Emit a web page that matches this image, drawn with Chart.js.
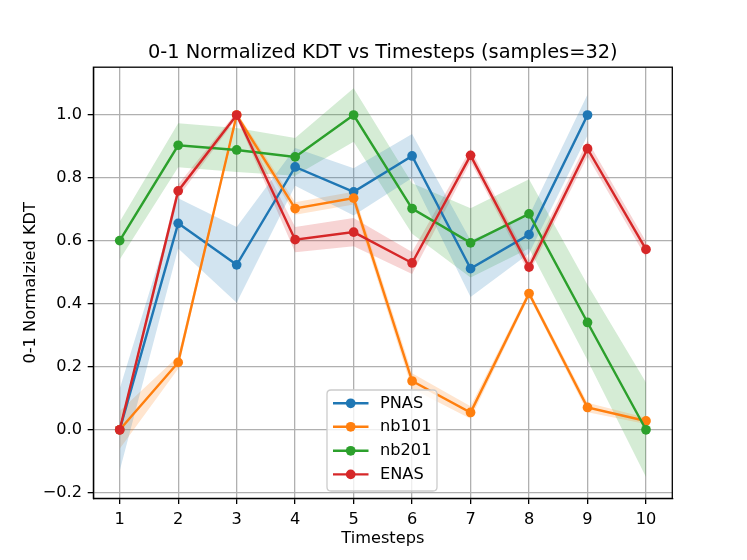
<!DOCTYPE html>
<html>
<head>
<meta charset="utf-8">
<script src="https://cdn.jsdelivr.net/npm/chart.js@4/dist/chart.umd.min.js"></script>
<style>
html,body{margin:0;padding:0;background:#fff;}
#wrap{width:747px;height:560px;}
</style>
</head>
<body>
<div id="wrap"><canvas id="c" width="747" height="560"></canvas></div>
<script>
// ---- data ----
const steps = [1, 2, 3, 4, 5, 6, 7, 8, 9, 10];
const yTicks = [-0.2, 0.0, 0.2, 0.4, 0.6, 0.8, 1.0];
const seriesNames = ['PNAS', 'nb101', 'nb201', 'ENAS'];

const pnasMean = [0.0, 0.656, 0.524, 0.835, 0.756, 0.870, 0.512, 0.620, 1.0];
const pnasStd  = [0.13, 0.08, 0.12, 0.06, 0.075, 0.07, 0.09, 0.06, 0.065];

const nb101Mean = [0.0, 0.214, 1.0, 0.703, 0.736, 0.155, 0.055, 0.433, 0.071, 0.028];
const nb101Std  = [0.06, 0.02, 0.01, 0.02, 0.02, 0.025, 0.02, 0.01, 0.015, 0.01];

const nb201Mean = [0.601, 0.904, 0.889, 0.867, 1.0, 0.703, 0.594, 0.686, 0.341, 0.0];
const nb201Std  = [0.06, 0.07, 0.07, 0.06, 0.085, 0.08, 0.11, 0.11, 0.12, 0.15];

const enasMean = [0.0, 0.759, 1.0, 0.604, 0.628, 0.530, 0.872, 0.517, 0.893, 0.573];
const enasStd  = [0.01, 0.02, 0.01, 0.04, 0.045, 0.035, 0.02, 0.02, 0.025, 0.025];

const colors = ['#1f77b4', '#ff7f0e', '#2ca02c', '#d62728'];
const bandColors = ['rgba(31,119,180,0.2)', 'rgba(255,127,14,0.2)', 'rgba(44,160,44,0.2)', 'rgba(214,39,40,0.2)'];

const means = [pnasMean, nb101Mean, nb201Mean, enasMean];
const stds = [pnasStd, nb101Std, nb201Std, enasStd];

const FONT = "'DejaVu Sans', sans-serif";
const LW = 2.43, PR = 4.86;

const datasets = [];
means.forEach((m, i) => {
  datasets.push({
    label: '_lo' + i, data: m.map((v, k) => ({x: steps[k], y: v - stds[i][k]})),
    borderWidth: 0, pointRadius: 0, fill: false, order: 100 + i, borderColor: 'rgba(0,0,0,0)'
  });
  datasets.push({
    label: '_hi' + i, data: m.map((v, k) => ({x: steps[k], y: v + stds[i][k]})),
    borderWidth: 0, pointRadius: 0, fill: '-1', backgroundColor: bandColors[i], order: 100 + i, borderColor: 'rgba(0,0,0,0)'
  });
});
means.forEach((m, i) => {
  datasets.push({
    label: seriesNames[i], data: m.map((v, k) => ({x: steps[k], y: v})),
    borderColor: colors[i], backgroundColor: colors[i], borderWidth: LW,
    pointRadius: PR, pointBorderWidth: 0, pointBackgroundColor: colors[i],
    fill: false, order: 10 - i, tension: 0
  });
});

const decor = {
  id: 'decor',
  afterDraw(chart) {
    const ctx = chart.ctx, a = chart.chartArea;
    ctx.save();
    // frame
    ctx.strokeStyle = '#000'; ctx.lineWidth = 1.3;
    ctx.strokeRect(a.left, a.top, a.right - a.left, a.bottom - a.top);
    // title
    ctx.fillStyle = '#000';
    ctx.font = '19.4px ' + FONT;
    ctx.textAlign = 'center'; ctx.textBaseline = 'alphabetic';
    const cx = (a.left + a.right) / 2;
    ctx.fillText('0-1 Normalized KDT vs Timesteps (samples=32)', cx, 57.5);
    // x label
    ctx.font = '16.2px ' + FONT;
    ctx.fillText('Timesteps', cx, 543.3);
    // y label
    ctx.save();
    ctx.translate(35, (a.top + a.bottom) / 2);
    ctx.rotate(-Math.PI / 2);
    ctx.fillText('0-1 Normalzied KDT', 0, 0);
    ctx.restore();
    // legend
    const bx = 327, by = 390, bw = 110, bh = 101, r = 4;
    ctx.beginPath();
    ctx.moveTo(bx + r, by); ctx.lineTo(bx + bw - r, by); ctx.quadraticCurveTo(bx + bw, by, bx + bw, by + r);
    ctx.lineTo(bx + bw, by + bh - r); ctx.quadraticCurveTo(bx + bw, by + bh, bx + bw - r, by + bh);
    ctx.lineTo(bx + r, by + bh); ctx.quadraticCurveTo(bx, by + bh, bx, by + bh - r);
    ctx.lineTo(bx, by + r); ctx.quadraticCurveTo(bx, by, bx + r, by);
    ctx.closePath();
    ctx.fillStyle = 'rgba(255,255,255,0.8)'; ctx.fill();
    ctx.strokeStyle = '#cccccc'; ctx.lineWidth = 1.3; ctx.stroke();
    const rows = [403.3, 426.8, 450.8, 474.4];
    seriesNames.forEach((n, i) => {
      const y = rows[i];
      ctx.strokeStyle = colors[i]; ctx.lineWidth = LW;
      ctx.beginPath(); ctx.moveTo(333, y); ctx.lineTo(368.5, y); ctx.stroke();
      ctx.fillStyle = colors[i];
      ctx.beginPath(); ctx.arc(350.7, y, PR, 0, Math.PI * 2); ctx.fill();
      ctx.fillStyle = '#000'; ctx.font = '16.2px ' + FONT;
      ctx.textAlign = 'left'; ctx.textBaseline = 'middle';
      ctx.fillText(n, 380, y);
    });
    ctx.restore();
  }
};

new Chart(document.getElementById('c'), {
  type: 'line',
  data: {datasets},
  options: {
    responsive: false, animation: false, devicePixelRatio: 1,
    layout: {padding: {left: 0, right: 74.7, top: 67.2, bottom: 0}},
    plugins: {legend: {display: false}, title: {display: false}, tooltip: {enabled: false}},
    scales: {
      x: {
        type: 'linear', min: 0.55, max: 10.45,
        afterBuildTicks: s => { s.ticks = steps.map(v => ({value: v})); },
        afterFit: s => { s.height = 61.6; },
        grid: {color: '#b0b0b0', lineWidth: 1.3, tickColor: '#000', tickLength: 5.7, tickWidth: 1.3, drawTicks: true},
        border: {display: true, color: '#000', width: 1.3},
        ticks: {color: '#000', font: {family: FONT, size: 16.2}, padding: 6, maxRotation: 0, autoSkip: false,
          callback: v => String(v)}
      },
      y: {
        type: 'linear', min: -0.218, max: 1.152,
        afterBuildTicks: s => { s.ticks = yTicks.map(v => ({value: v})); },
        afterFit: s => { s.width = 93.4; },
        grid: {color: '#b0b0b0', lineWidth: 1.3, tickColor: '#000', tickLength: 5.7, tickWidth: 1.3, drawTicks: true},
        border: {display: true, color: '#000', width: 1.3},
        ticks: {color: '#000', font: {family: FONT, size: 16.2}, padding: 5.7, autoSkip: false,
          callback: v => (v < 0 ? '\u2212' : '') + Math.abs(v).toFixed(1)}
      }
    }
  },
  plugins: [decor]
});
</script>
</body>
</html>
